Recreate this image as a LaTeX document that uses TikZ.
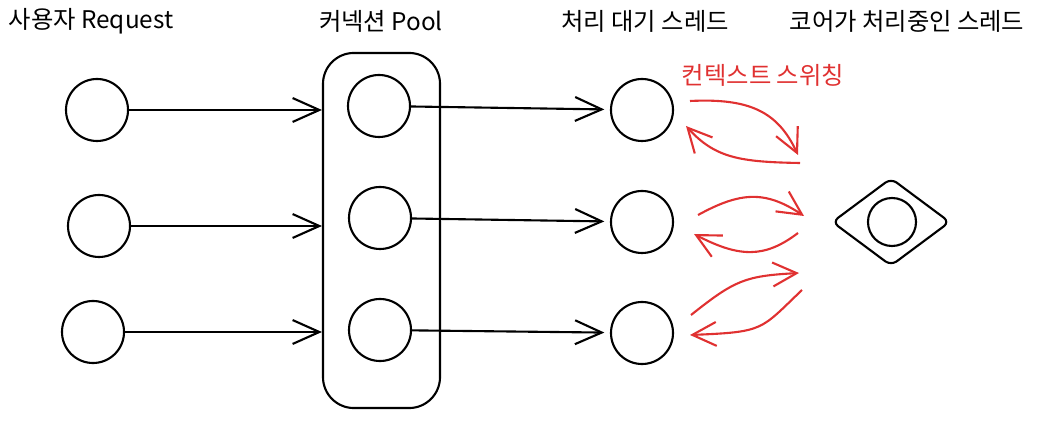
\documentclass[tikz,border=0pt]{standalone}
\usepackage{fontspec}
\setmainfont{Noto Sans CJK KR}
\usepackage{xcolor}
\usetikzlibrary{arrows.meta,positioning,shapes.geometric}

\definecolor{swred}{HTML}{E03131}

\begin{document}
\begin{tikzpicture}[
    x=0.025cm, y=-0.025cm,
    thread/.style={circle, draw, line width=1.5pt, minimum size=1.55cm, inner sep=0pt},
    label/.style={font=\fontsize{17.3}{20}\selectfont, inner sep=0pt},
    arrow/.style={-{Straight Barb[length=19pt, width=17pt, line width=1.5pt]}, line width=1.5pt},
    switch/.style={-{Straight Barb[length=17pt, width=17pt, line width=1.5pt]}, line width=1.5pt, swred}
  ]
    \useasboundingbox (0,0) rectangle (1038,425);

    % titles
    \node[label] (tuser) at (91,21)  {사용자 Request};
    \node[label] (tpool) at (381,21) {커넥션 Pool};
    \node[label] (twait) at (645,21) {처리 대기 스레드};
    \node[label] (tcore) at (907,21) {코어가 처리중인 스레드};
    \node[label, text=swred] (tswitch) at (763,75) {컨텍스트 스위칭};

    % user requests
    \node[thread] (u1) at (97,110)  {};
    \node[thread] (u2) at (99,226)  {};
    \node[thread] (u3) at (93,332)  {};

    % connection pool
    \node[draw, line width=1.5pt, rounded corners=22pt, minimum width=2.925cm,
          minimum height=8.875cm] (pool) at (381.5,230.5) {};
    \node[thread] (p1) at (379,106) {};
    \node[thread] (p2) at (380,218) {};
    \node[thread] (p3) at (380,330) {};

    % waiting threads
    \node[thread] (w1) at (642,110) {};
    \node[thread] (w2) at (642,222) {};
    \node[thread] (w3) at (642,333) {};

    % core
    \node[diamond, draw, line width=1.5pt, rounded corners=5pt, inner sep=0pt,
          minimum width=2.95cm, minimum height=2.2cm] (core) at (891,222) {};
    \node[circle, draw, line width=1.5pt, minimum size=1.2cm, inner sep=0pt] (c1) at (892,222) {};

    \draw[arrow] (u1) -- (u1 -| pool.west);
    \draw[arrow] (u2) -- (u2 -| pool.west);
    \draw[arrow] (u3) -- (u3 -| pool.west);
    \draw[arrow, shorten >=4pt] (p1) -- (w1);
    \draw[arrow, shorten >=4pt] (p2) -- (w2);
    \draw[arrow, shorten >=4pt] (p3) -- (w3);

    % context switching
    \coordinate (s1a) at (690,101);
    \coordinate (s1b) at (798,155);
    \coordinate (s1c) at (800,163);
    \coordinate (s1d) at (686,126);
    \coordinate (s2a) at (698,215);
    \coordinate (s2b) at (804,216);
    \coordinate (s2c) at (798,233);
    \coordinate (s2d) at (694,234);
    \coordinate (s3a) at (691,315);
    \coordinate (s3b) at (799,273);
    \coordinate (s3c) at (802,290);
    \coordinate (s3d) at (690,335);

    \draw[switch] (s1a) .. controls (750,98) and (778,112) .. (s1b);
    \draw[switch] (s1c) .. controls (740,162) and (715,158) .. (s1d);
    \draw[switch] (s2a) .. controls (740,192) and (765,190) .. (s2b);
    \draw[switch] (s2c) .. controls (765,258) and (740,258) .. (s2d);
    \draw[switch] (s3a) .. controls (735,280) and (745,276) .. (s3b);
    \draw[switch] (s3c) .. controls (760,330) and (765,332) .. (s3d);
\end{tikzpicture}
\end{document}
